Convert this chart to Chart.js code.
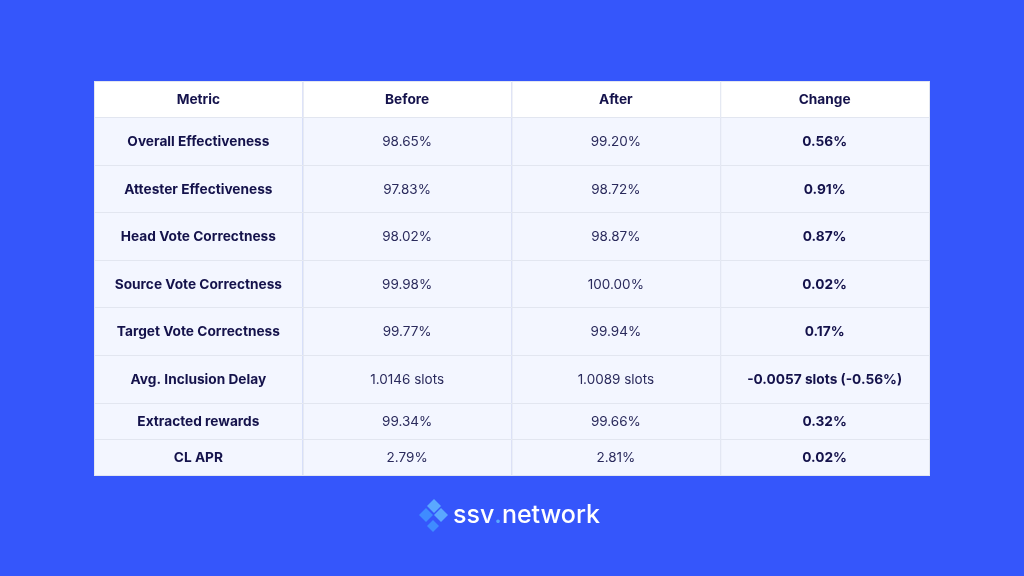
<!DOCTYPE html>
<html><head><meta charset="utf-8">
<script src="https://cdn.jsdelivr.net/npm/chart.js@4"></script>
<style>html,body{margin:0;padding:0;background:#3556FB;}#wrap{width:1024px;height:576px;position:relative}</style>
</head><body><div id="wrap"><canvas id="c" width="1024" height="576"></canvas></div>
<script>
const columns = ["Metric","Before","After","Change"];
const metrics = ["Overall Effectiveness","Attester Effectiveness","Head Vote Correctness","Source Vote Correctness","Target Vote Correctness","Avg. Inclusion Delay","Extracted rewards","CL APR"];
const before = ["98.65%","97.83%","98.02%","99.98%","99.77%","1.0146 slots","99.34%","2.79%"];
const after = ["99.20%","98.72%","98.87%","100.00%","99.94%","1.0089 slots","99.66%","2.81%"];
const change = ["0.56%","0.91%","0.87%","0.02%","0.17%","-0.0057 slots (-0.56%)","0.32%","0.02%"];
// row boundaries in table units (header + 8 rows)
const rowEdges = [0,36,84,131,179,226,274,322,358,394];

const tablePlugin = {
  id:'table',
  beforeDatasetsDraw(chart){
    const {ctx, scales:{x,y}} = chart;
    ctx.save();
    const rows = [columns].concat(metrics.map((m,i)=>[m,before[i],after[i],change[i]]));
    for(let r=0;r<rows.length;r++){
      const y0=y.getPixelForValue(rowEdges[r]), y1=y.getPixelForValue(rowEdges[r+1]);
      for(let c=0;c<4;c++){
        const x0=x.getPixelForValue(c), x1=x.getPixelForValue(c+1);
        ctx.fillStyle = r===0 ? '#FFFFFF' : '#F3F6FF';
        ctx.fillRect(x0,y0,x1-x0,y1-y0);
        ctx.strokeStyle='#E2E6F0'; ctx.lineWidth=1;
        ctx.strokeRect(x0+0.5,y0+0.5,x1-x0,y1-y0);
        const bold = r===0 || c===0 || c===3;
        ctx.font = (bold?'700 13.7px ':'400 13.5px ')+'Inter, "Open Sans", sans-serif';
        ctx.fillStyle = bold ? '#14124B' : '#2A2A5C';
        ctx.textAlign='center'; ctx.textBaseline='middle';
        ctx.fillText(rows[r][c],(x0+x1)/2,(y0+y1)/2+1);
      }
    }
    // logo
    ctx.fillStyle='#5AA8FF';
    const d=(cx,cy,s)=>{ctx.beginPath();ctx.moveTo(cx,cy-s);ctx.lineTo(cx+s,cy);ctx.lineTo(cx,cy+s);ctx.lineTo(cx-s,cy);ctx.closePath();ctx.fill();};
    d(434,506,7); ctx.fillStyle='#3F8CFF'; d(426,515,7); ctx.fillStyle='#5AA8FF'; d(441,515,7); ctx.fillStyle='#3F8CFF'; d(433,526,6);
    ctx.font='500 25px Inter, "Open Sans", sans-serif'; ctx.textAlign='left'; ctx.textBaseline='middle';
    ctx.fillStyle='#FFFFFF';
    ctx.fillText('ssv',453,515);
    const w1=ctx.measureText('ssv').width;
    ctx.fillStyle='#5AA8FF'; ctx.fillText('.',453+w1,515);
    const w2=ctx.measureText('.').width;
    ctx.fillStyle='#FFFFFF'; ctx.fillText('network',453+w1+w2,515);
    ctx.restore();
  }
};

new Chart(document.getElementById('c'),{
  type:'scatter',
  data:{datasets:[{data:[]}]},
  options:{
    responsive:false, animation:false,
    layout:{padding:{left:94,right:95,top:81,bottom:101}},
    plugins:{legend:{display:false},tooltip:{enabled:false}},
    scales:{
      x:{type:'linear',min:0,max:4,display:false},
      y:{type:'linear',min:0,max:394,reverse:true,display:false}
    }
  },
  plugins:[tablePlugin]
});
</script></body></html>
